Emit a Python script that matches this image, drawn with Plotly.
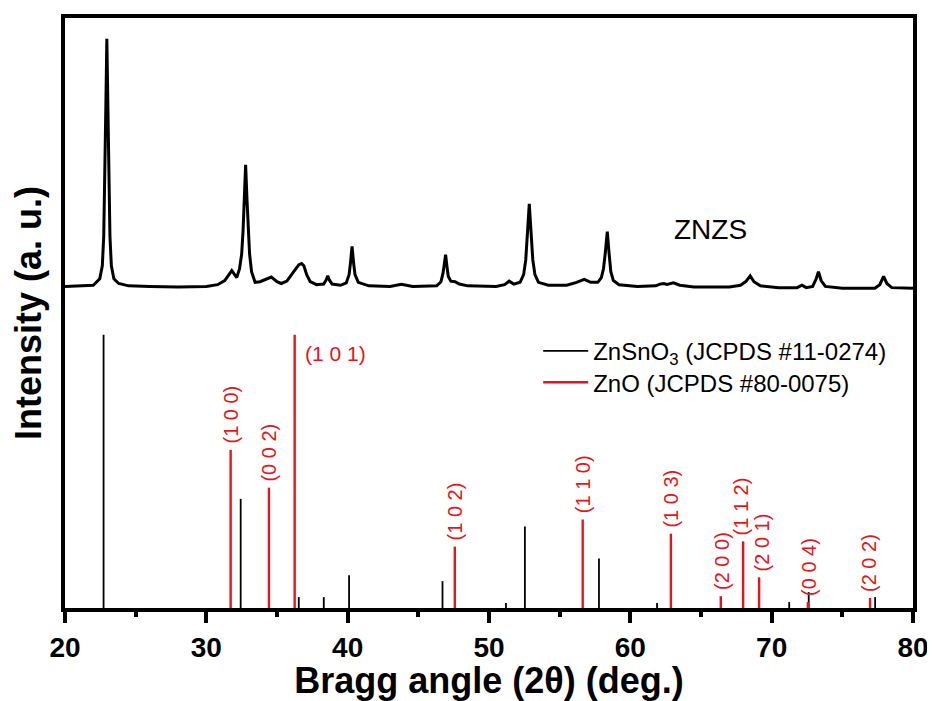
import plotly.graph_objects as go

# ---------------- data ----------------
# Measured XRD pattern of ZNZS (2theta in deg., intensity in a.u.)
xrd_2theta = [20.0, 21.0, 22.0, 22.46, 22.64, 22.74, 22.82, 22.89, 22.96, 23.03, 23.10, 23.18,
              23.28, 23.46, 23.8, 24.5, 26.0, 28.0, 30.0, 30.8, 31.3, 31.6, 31.8, 32.0, 32.15,
              32.35, 32.5, 32.6, 32.68, 32.78, 32.88, 32.96, 33.06, 33.2, 33.45, 33.8, 34.2,
              34.6, 35.0, 35.3, 35.7, 36.0, 36.3, 36.55, 36.74, 36.9, 37.1, 37.35, 37.8, 38.3,
              38.48, 38.59, 38.7, 38.9, 39.5, 39.9, 40.1, 40.2, 40.31, 40.42, 40.52, 40.75,
              41.5, 43.0, 43.8, 44.6, 46.3, 46.6, 46.75, 46.85, 46.93, 47.02, 47.12, 47.3,
              47.6, 47.9, 48.5, 50.5, 51.1, 51.43, 51.75, 52.2, 52.45, 52.6, 52.72, 52.85,
              52.98, 53.1, 53.25, 53.5, 54.2, 55.5, 56.2, 56.74, 57.2, 57.7, 57.95, 58.1,
              58.22, 58.37, 58.5, 58.62, 58.8, 59.2, 60.5, 61.8, 62.1, 62.34, 62.6, 63.05,
              63.5, 64.5, 67.0, 67.8, 68.2, 68.48, 68.75, 69.2, 70.5, 71.8, 72.14, 72.45,
              72.9, 73.15, 73.31, 73.5, 73.8, 75.0, 77.3, 77.65, 77.92, 78.15, 78.5, 80.0]
xrd_intensity = [54.5, 54.6, 54.7, 55.8, 58.0, 63.0, 72.0, 85.0, 96.5, 85.0, 72.0, 63.0,
                 58.0, 55.8, 55.0, 54.6, 54.5, 54.4, 54.5, 54.8, 55.5, 56.6, 57.2, 56.5, 56.0,
                 57.5, 60.0, 64.0, 69.0, 75.1, 69.0, 64.0, 60.0, 57.0, 55.2, 55.3, 55.7,
                 56.1, 55.3, 55.0, 55.4, 56.3, 57.4, 58.2, 58.4, 58.0, 56.5, 55.3, 54.8, 54.9,
                 55.6, 56.3, 55.6, 54.9, 54.7, 55.1, 56.5, 58.5, 61.3, 58.5, 56.5, 55.2,
                 54.6, 54.5, 54.85, 54.5, 54.6, 55.3, 56.8, 58.5, 59.9, 58.0, 56.2, 55.4,
                 55.3, 54.9, 54.6, 54.5, 54.8, 55.4, 54.9, 55.2, 56.5, 59.0, 63.5, 68.5,
                 63.5, 59.0, 56.5, 55.2, 54.7, 54.7, 55.2, 55.7, 55.2, 55.2, 56.0, 57.5,
                 60.0, 63.8, 60.0, 57.0, 55.5, 54.8, 54.5, 54.6, 54.9, 55.0, 54.85, 55.1,
                 54.7, 54.4, 54.4, 54.7, 55.4, 56.3, 55.3, 54.6, 54.3, 54.3, 54.7, 54.3,
                 54.5, 55.8, 57.0, 55.5, 54.5, 54.2, 54.2, 54.8, 56.2, 55.0, 54.3, 54.2]

# ZnSnO3 reference (JCPDS #11-0274)
znsno3_pos = [22.73, 32.43, 36.54, 38.31, 40.10, 46.71, 51.20, 52.54, 57.78, 61.89, 71.24, 72.62, 77.32]
znsno3_int = [46.3, 18.5, 1.85, 1.85, 5.56, 4.55, 0.84, 13.8, 8.4, 0.84, 1.0, 2.7, 1.85]

# ZnO reference (JCPDS #80-0075)
zno_pos = [31.72, 34.43, 36.25, 47.58, 56.63, 62.87, 66.40, 67.98, 69.11, 72.56, 76.96]
zno_int = [26.8, 20.4, 46.3, 10.4, 15.0, 12.6, 2.0, 11.3, 5.2, 1.0, 1.7]
zno_hkl = ["(1 0 0)", "(0 0 2)", "(1 0 1)", "(1 0 2)", "(1 1 0)", "(1 0 3)",
           "(2 0 0)", "(1 1 2)", "(2 0 1)", "(0 0 4)", "(2 0 2)"]
zno_label_rotated = [True, True, False, True, True, True, True, True, True, True, True]
zno_label_nudge_px = [0, 0, 0, 0, 0, 0, 1, -2, 3, 1, -1]

sample_label = "ZNZS"
x_ticks = [20, 30, 40, 50, 60, 70, 80]

# ---------------- figure ----------------
FONT = "Liberation Sans, Arial, sans-serif"
RED = "#e8141c"


def sticks(pos, inten):
    xs, ys = [], []
    for p, h in zip(pos, inten):
        xs += [p, p, None]
        ys += [0, h, None]
    return xs, ys


fig = go.Figure()

fig.add_trace(go.Scatter(x=xrd_2theta, y=xrd_intensity, mode="lines",
                         line=dict(color="black", width=3), showlegend=False,
                         hoverinfo="skip"))

sx, sy = sticks(znsno3_pos, znsno3_int)
fig.add_trace(go.Scatter(x=sx, y=sy, mode="lines", line=dict(color="black", width=1.8),
                         name="ZnSnO<sub>3</sub> (JCPDS #11-0274)", legend="legend"))
rx, ry = sticks(zno_pos, zno_int)
fig.add_trace(go.Scatter(x=rx, y=ry, mode="lines", line=dict(color=RED, width=2.4),
                         name="ZnO (JCPDS #80-0075)", legend="legend2"))

for p, h, lab, rot, dx in zip(zno_pos, zno_int, zno_hkl, zno_label_rotated, zno_label_nudge_px):
    if rot:
        fig.add_annotation(x=p, y=h, text=lab, textangle=-90, showarrow=False,
                           xanchor="center", yanchor="bottom", yshift=4, xshift=dx,
                           font=dict(family=FONT, size=20, color=RED))
    else:
        fig.add_annotation(x=p, y=h, text=lab, textangle=0, showarrow=False,
                           xanchor="left", yanchor="middle", xshift=8, yshift=-19,
                           font=dict(family=FONT, size=21, color=RED))

fig.add_annotation(x=65.64, y=64.1, text=sample_label, showarrow=False,
                   xanchor="center", yanchor="middle",
                   font=dict(family=FONT, size=28, color="black"))

legend_common = dict(xanchor="left", yanchor="top", bgcolor="rgba(0,0,0,0)", borderwidth=0,
                     font=dict(family=FONT, size=24, color="black"), itemwidth=45)

# the page body adds an 8 px offset, so the figure is 8 px smaller and shifted
fig.update_layout(
    width=927, height=693,
    margin=dict(l=57, r=22, t=6, b=93),
    paper_bgcolor="white", plot_bgcolor="white",
    font=dict(family=FONT, color="black"),
    legend=dict(x=0.558, y=0.4731, **legend_common),
    legend2=dict(x=0.558, y=0.4200, **legend_common),
)

fig.update_xaxes(
    range=[20, 80], tickvals=x_ticks, ticktext=[str(t) for t in x_ticks],
    showline=True, linewidth=4, linecolor="black", mirror=True,
    ticks="outside", ticklen=11, tickwidth=4, tickcolor="black",
    minor=dict(dtick=5, ticks="outside", ticklen=5, tickwidth=4, tickcolor="black"),
    showgrid=False, zeroline=False,
    tickfont=dict(family=FONT, size=28, color="black", weight="bold"),
    title=dict(text="Bragg angle (2θ) (deg.)", standoff=0,
               font=dict(family=FONT, size=36, color="black", weight="bold")),
)
fig.update_yaxes(
    range=[0, 100], showline=True, linewidth=4, linecolor="black", mirror=True,
    ticks="", showticklabels=False, showgrid=False, zeroline=False,
    title=dict(text="Intensity (a. u.)", standoff=12,
               font=dict(family=FONT, size=36, color="black", weight="bold")),
)

fig.write_html("out.html")
